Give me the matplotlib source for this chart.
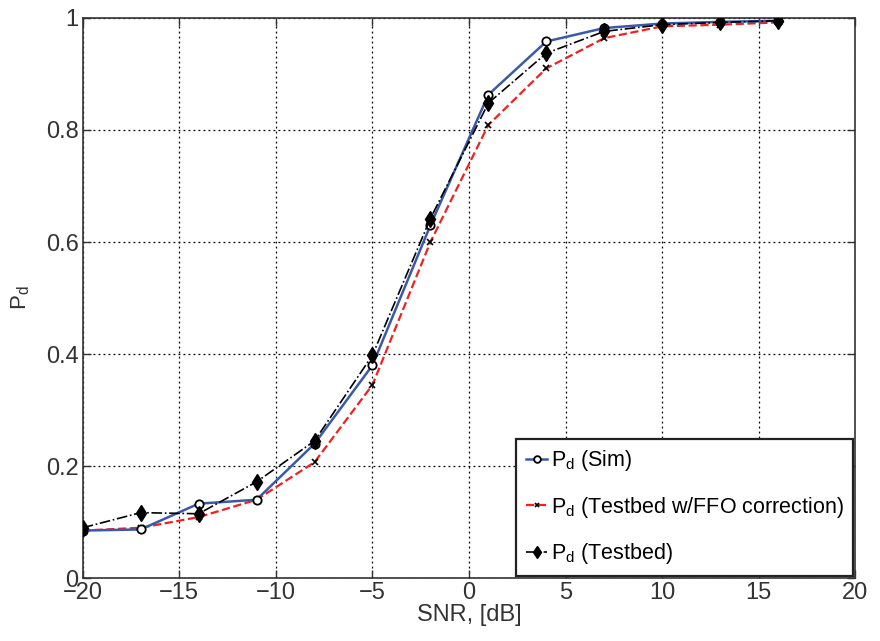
import matplotlib
matplotlib.use("Agg")
import matplotlib.pyplot as plt
from matplotlib import font_manager

snr = [-20, -17, -14, -11, -8, -5, -2, 1, 4, 7, 10, 13, 16]
pd_sim = [0.085, 0.087, 0.133, 0.140, 0.240, 0.380, 0.630, 0.863, 0.958, 0.982, 0.990, 0.993, 0.995]
pd_ffo = [0.085, 0.090, 0.109, 0.140, 0.207, 0.345, 0.600, 0.809, 0.910, 0.964, 0.985, 0.988, 0.992]
pd_tb = [0.090, 0.117, 0.115, 0.172, 0.245, 0.398, 0.642, 0.848, 0.937, 0.976, 0.988, 0.992, 0.995]

xticks = [-20, -15, -10, -5, 0, 5, 10, 15, 20]
yticks = [0, 0.2, 0.4, 0.6, 0.8, 1]
ytick_labels = ["0", "0.2", "0.4", "0.6", "0.8", "1"]

names = {f.name for f in font_manager.fontManager.ttflist}
fam = [f for f in ["Liberation Sans Narrow", "Liberation Sans", "DejaVu Sans"] if f in names]
plt.rcParams["font.family"] = fam
plt.rcParams["mathtext.fontset"] = "custom"
plt.rcParams["mathtext.rm"] = fam[0]
plt.rcParams["mathtext.it"] = fam[0]

fig = plt.figure(figsize=(8.8, 6.41), dpi=100)
ax = fig.add_axes([0.094, 0.098, 0.878, 0.874])

ax.plot(snr, pd_sim, '-', color='#3a5aa8', lw=1.8, marker='o', ms=6,
        mfc='white', mec='black', mew=1.3, label=r'P$_{\rm d}$ (Sim)', zorder=3)
ax.plot(snr, pd_ffo, '--', color='#ee2222', lw=1.6, marker='x', ms=4,
        mec='black', mew=1.2, label=r'P$_{\rm d}$ (Testbed w/FFO correction)', zorder=2)
ax.plot(snr, pd_tb, '-.', color='black', lw=1.2, marker='d', ms=8,
        mfc='black', mec='black', label=r'P$_{\rm d}$ (Testbed)', zorder=4)

ax.set_xlim(-20, 20)
ax.set_ylim(0, 1)
ax.set_xticks(xticks)
ax.set_yticks(yticks)
ax.set_yticklabels(ytick_labels)
ax.tick_params(direction='in', length=6, width=1, labelsize=17, pad=3,
               top=True, right=True, colors='#333333', labelcolor='#333333')
ax.grid(True, color='black', linestyle=(0, (1.5, 2.5)), lw=0.9)
for s in ax.spines.values():
    s.set_linewidth(1.2)
    s.set_color('#333333')

ax.set_xlabel('SNR, [dB]', fontsize=17, labelpad=0, color='#333333')
ax.set_ylabel(r'P$_{\rm d}$', fontsize=16, color='#333333')
ax.yaxis.set_label_coords(-0.066, 0.5)

leg = ax.legend(loc='lower right', fontsize=15.5, handlelength=1.0, handletextpad=0.15,
                borderaxespad=0.1, labelspacing=1.0, fancybox=False, framealpha=1,
                borderpad=0.45, markerscale=0.8)
leg.get_frame().set_edgecolor('#222222')
leg.get_frame().set_linewidth(1.6)

fig.savefig('out.png', dpi=100)
